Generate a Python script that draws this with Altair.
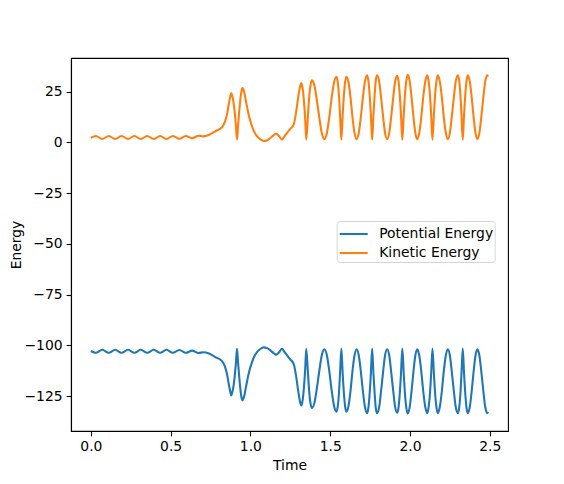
import altair as alt
import pandas as pd

series_names = ["Potential Energy", "Kinetic Energy"]
colors = ["#1f77b4", "#ff7f0e"]
x_ticks = [0.0, 0.5, 1.0, 1.5, 2.0, 2.5]
y_ticks = [-125, -100, -75, -50, -25, 0, 25]

t = [
    0.000, 0.031, 0.071, 0.112, 0.152, 0.192, 0.233, 0.273, 0.313, 0.353,
    0.394, 0.434, 0.474, 0.514, 0.555, 0.595, 0.635, 0.675, 0.705, 0.740,
    0.780, 0.822, 0.840, 0.853, 0.866, 0.874, 0.880, 0.887, 0.894, 0.901,
    0.909, 0.916, 0.923, 0.930, 0.937, 0.944, 0.951, 0.960, 0.972, 0.989,
    1.010, 1.025, 1.041, 1.062, 1.083, 1.105, 1.125, 1.145, 1.161, 1.180,
    1.198, 1.213, 1.230, 1.250, 1.271, 1.285, 1.299, 1.310, 1.319, 1.327,
    1.335, 1.343, 1.350, 1.360, 1.368, 1.377, 1.386, 1.402, 1.417, 1.433,
    1.448, 1.464, 1.479, 1.494, 1.509, 1.524, 1.539, 1.547, 1.555, 1.562,
    1.570, 1.578, 1.586, 1.594, 1.602, 1.615, 1.628, 1.640, 1.653, 1.666,
    1.679, 1.692, 1.705, 1.718, 1.731, 1.739, 1.747, 1.755, 1.763, 1.771,
    1.779, 1.786, 1.794, 1.807, 1.819, 1.832, 1.844, 1.857, 1.870, 1.882,
    1.895, 1.907, 1.920, 1.928, 1.936, 1.944, 1.952, 1.961, 1.969, 1.978,
    1.986, 1.998, 2.010, 2.022, 2.034, 2.046, 2.058, 2.071, 2.083, 2.096,
    2.108, 2.116, 2.125, 2.133, 2.141, 2.150, 2.158, 2.167, 2.175, 2.187,
    2.200, 2.212, 2.225, 2.237, 2.250, 2.262, 2.275, 2.287, 2.300, 2.308,
    2.316, 2.323, 2.331, 2.339, 2.347, 2.355, 2.363, 2.375, 2.387, 2.399,
    2.411, 2.423, 2.435, 2.447, 2.460, 2.472, 2.484, 2.490,
]

kinetic = [
    2.2, 3.1, 1.6, 3.1, 1.6, 3.1, 1.6, 3.1, 1.6, 3.1,
    1.6, 3.1, 1.6, 3.1, 1.7, 3.1, 2.0, 3.2, 2.9, 3.6,
    5.4, 7.4, 10.0, 13.6, 19.5, 22.6, 24.3, 22.5, 19.8, 15.3,
    8.5, 1.3, 8.5, 15.3, 21.0, 25.2, 26.7, 25.0, 20.2, 13.6,
    7.9, 5.0, 3.0, 1.4, 0.6, 1.0, 2.1, 3.4, 4.2, 3.0,
    1.3, 2.8, 4.6, 6.6, 8.7, 14.0, 21.8, 27.0, 29.2, 26.8,
    20.8, 11.8, 1.3, 12.4, 21.9, 28.3, 30.5, 27.7, 20.5, 11.5,
    4.3, 1.5, 4.4, 12.1, 21.7, 29.4, 32.3, 29.9, 23.2, 13.1,
    1.2, 13.1, 23.2, 29.9, 32.3, 29.4, 21.7, 12.1, 4.4, 1.5,
    4.5, 12.4, 22.1, 30.0, 33.0, 30.6, 23.7, 13.4, 1.2, 13.4,
    23.7, 30.6, 33.0, 30.0, 22.1, 12.4, 4.5, 1.5, 4.5, 12.4,
    22.0, 29.9, 32.8, 30.4, 23.5, 13.3, 1.2, 13.5, 23.8, 30.8,
    33.2, 30.2, 22.2, 12.5, 4.5, 1.5, 4.5, 12.4, 22.1, 30.0,
    33.0, 30.6, 23.7, 13.4, 1.2, 13.4, 23.7, 30.6, 33.0, 30.0,
    22.1, 12.4, 4.5, 1.5, 4.5, 12.4, 22.1, 30.0, 33.0, 30.6,
    23.7, 13.4, 1.2, 13.4, 23.7, 30.6, 33.0, 30.0, 22.1, 12.4,
    4.5, 1.5, 4.5, 12.4, 22.1, 30.0, 33.0, 32.4,
]

potential = [
    -102.8, -103.7, -102.2, -103.7, -102.2, -103.7, -102.2, -103.7, -102.2, -103.7,
    -102.2, -103.7, -102.2, -103.7, -102.3, -103.7, -102.6, -103.8, -103.4, -104.0,
    -105.8, -107.8, -110.4, -114.0, -119.9, -123.0, -124.7, -122.9, -120.2, -115.7,
    -108.9, -101.7, -108.9, -115.7, -121.4, -125.6, -127.1, -125.4, -120.6, -114.0,
    -108.3, -105.4, -103.4, -101.8, -101.0, -101.4, -102.5, -103.8, -104.6, -103.4,
    -101.7, -103.2, -105.0, -107.0, -109.1, -114.4, -122.2, -127.4, -129.6, -127.2,
    -121.2, -112.2, -101.7, -112.8, -122.3, -128.7, -130.9, -128.1, -120.9, -111.9,
    -104.7, -101.9, -104.8, -112.5, -122.1, -129.8, -132.7, -130.3, -123.6, -113.5,
    -101.6, -113.5, -123.6, -130.3, -132.7, -129.8, -122.1, -112.5, -104.8, -101.9,
    -104.9, -112.8, -122.5, -130.4, -133.4, -131.0, -124.1, -113.8, -101.6, -113.8,
    -124.1, -131.0, -133.4, -130.4, -122.5, -112.8, -104.9, -101.9, -104.9, -112.8,
    -122.4, -130.3, -133.2, -130.8, -123.9, -113.7, -101.6, -113.9, -124.2, -131.2,
    -133.6, -130.6, -122.6, -112.9, -104.9, -101.9, -104.9, -112.8, -122.5, -130.4,
    -133.4, -131.0, -124.1, -113.8, -101.6, -113.8, -124.1, -131.0, -133.4, -130.4,
    -122.5, -112.8, -104.9, -101.9, -104.9, -112.8, -122.5, -130.4, -133.4, -131.0,
    -124.1, -113.8, -101.6, -113.8, -124.1, -131.0, -133.4, -130.4, -122.5, -112.8,
    -104.9, -101.9, -104.9, -112.8, -122.5, -130.4, -133.4, -132.8,
]

n = len(t)
df = pd.DataFrame({
    "Time": t + t,
    "Energy": potential + kinetic,
    "series": [series_names[0]] * n + [series_names[1]] * n,
})

FONT = "DejaVu Sans"
FS = 13.9

chart = alt.Chart(df).mark_line(
    strokeWidth=2.08, interpolate="monotone", clip=True
).encode(
    x=alt.X(
        "Time:Q",
        scale=alt.Scale(domain=[-0.1245, 2.6145], nice=False, zero=False),
        axis=alt.Axis(values=x_ticks, format=".1f", title="Time", grid=False,
                      labelPadding=4, titlePadding=5),
    ),
    y=alt.Y(
        "Energy:Q",
        scale=alt.Scale(domain=[-142.2, 41.5], nice=False, zero=False),
        axis=alt.Axis(values=y_ticks, format="d", title="Energy", grid=False,
                      labelPadding=4, titlePadding=0),
    ),
    color=alt.Color(
        "series:N",
        scale=alt.Scale(domain=series_names, range=colors),
        legend=alt.Legend(
            title=None, orient="none", legendX=265.7, legendY=163,
            fillColor="white", strokeColor="#d5d5d5", cornerRadius=3,
            padding=1.5, rowPadding=0,
            symbolType="M-1,0H1.8", symbolSize=400, symbolStrokeWidth=2.08,
            labelOffset=18, labelFont=FONT, labelFontSize=FS, labelColor="black",
            labelLimit=0,
        ),
    ),
    detail="series:N",
).properties(
    width=437,
    height=373,
    autosize=alt.AutoSizeParams(type="none"),
    padding={"left": 63, "top": 50, "right": 48, "bottom": 45},
).configure_view(
    stroke="black", strokeWidth=1.1
).configure_axis(
    labelFont=FONT, labelFontSize=FS, labelColor="black",
    titleFont=FONT, titleFontSize=FS, titleColor="black", titleFontWeight="normal",
    tickColor="black", tickSize=4.86, tickWidth=1.1,
    domainColor="black", domainWidth=1.1,
)

chart.save("out.html", embed_options={"renderer": "svg", "actions": False})
